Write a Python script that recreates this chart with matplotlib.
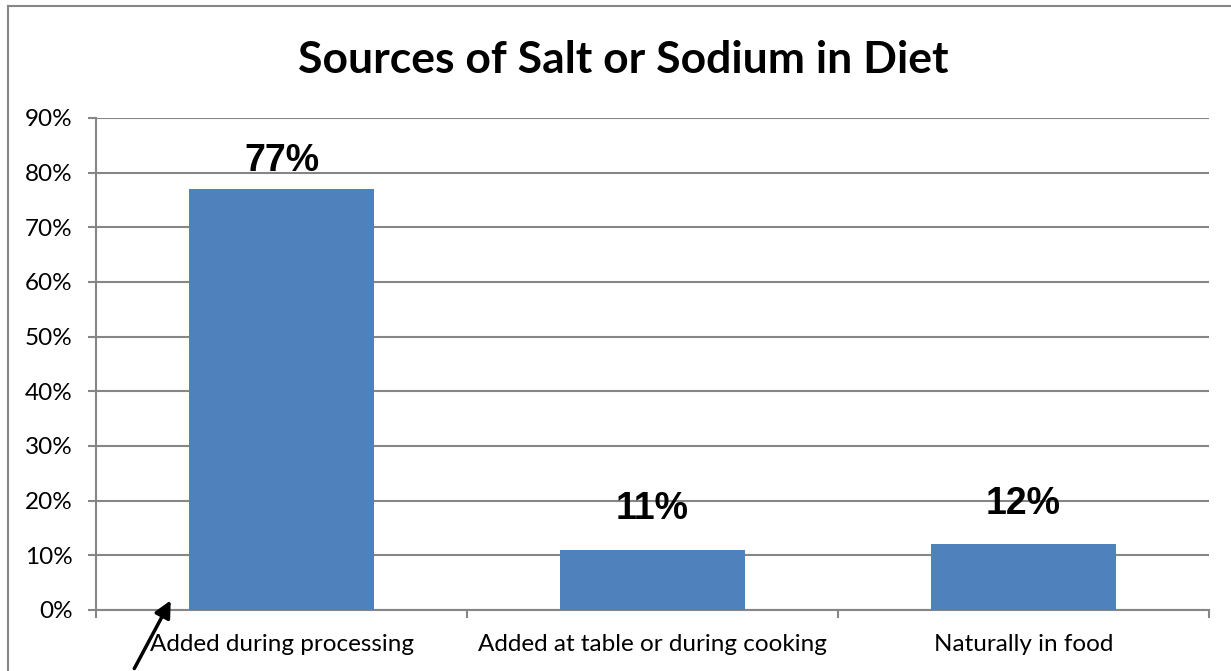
import matplotlib
matplotlib.use("Agg")
import matplotlib.pyplot as plt
from matplotlib.lines import Line2D
from matplotlib.ticker import FixedLocator, NullFormatter

# Chart data
categories = ["Added during processing", "Added at table or during cooking", "Naturally in food"]
values = [77, 11, 12]
value_labels = ["77%", "11%", "12%"]
yticks = [0, 10, 20, 30, 40, 50, 60, 70, 80, 90]

W, H = 1231, 671
fig = plt.figure(figsize=(W / 100, H / 100), dpi=100)
ax = fig.add_axes([96 / W, (H - 610) / H, (1209 - 96) / W, (610 - 118) / H])

grid_col = "#868686"
bar_col = "#4F81BD"
tick_font = "Lato"

x = list(range(len(categories)))
ax.bar(x, values, width=0.5, color=bar_col, zorder=3)

ax.set_xlim(-0.5, len(categories) - 0.5)
ax.set_ylim(0, 90)
ax.set_yticks(yticks)
ax.set_yticklabels([f"{t}%" for t in yticks], fontsize=17.5, fontfamily=tick_font)
ax.yaxis.grid(True, color=grid_col, linewidth=1.5, zorder=0)

# category labels sit between boundary ticks
ax.xaxis.set_major_locator(FixedLocator([i - 0.5 for i in range(len(categories) + 1)]))
ax.xaxis.set_major_formatter(NullFormatter())
ax.xaxis.set_minor_locator(FixedLocator(x))
ax.set_xticklabels(categories, minor=True, fontsize=17.5, fontfamily=tick_font)
ax.tick_params(axis="x", which="minor", length=0, pad=17)
ax.tick_params(axis="x", which="major", length=6, width=1.5, color=grid_col)
ax.tick_params(axis="y", length=6, width=1.5, color=grid_col, pad=11)

for s in ["top", "right"]:
    ax.spines[s].set_visible(False)
for s in ["left", "bottom"]:
    ax.spines[s].set_color(grid_col)
    ax.spines[s].set_linewidth(1.5)

# data labels, Excel-style placement
offsets = [13, 22, 22]
for xi, v, lab, off in zip(x, values, value_labels, offsets):
    ax.annotate(lab, (xi, v), xytext=(0, off), textcoords="offset points",
                ha="center", va="baseline", fontsize=27, fontweight="bold",
                fontfamily="Liberation Sans")

fig.text(623 / W, 1 - 60 / H, "Sources of Salt or Sodium in Diet", ha="center", va="center",
         fontsize=32, fontweight="bold", fontfamily=tick_font)

# chart area border (top and left visible)
fig.add_artist(Line2D([8 / W, 1], [1 - 5.5 / H] * 2, color=grid_col, linewidth=1.5))
fig.add_artist(Line2D([8 / W] * 2, [0, 1 - 5.5 / H], color=grid_col, linewidth=1.5))

# arrow pointing at first bar
ax.annotate("", xy=(172 / W, 1 - 598 / H), xycoords="figure fraction",
            xytext=(133 / W, 0), textcoords="figure fraction",
            arrowprops=dict(arrowstyle="-|>", color="black", lw=2.5, mutation_scale=25))

fig.savefig("out.png", dpi=100)
